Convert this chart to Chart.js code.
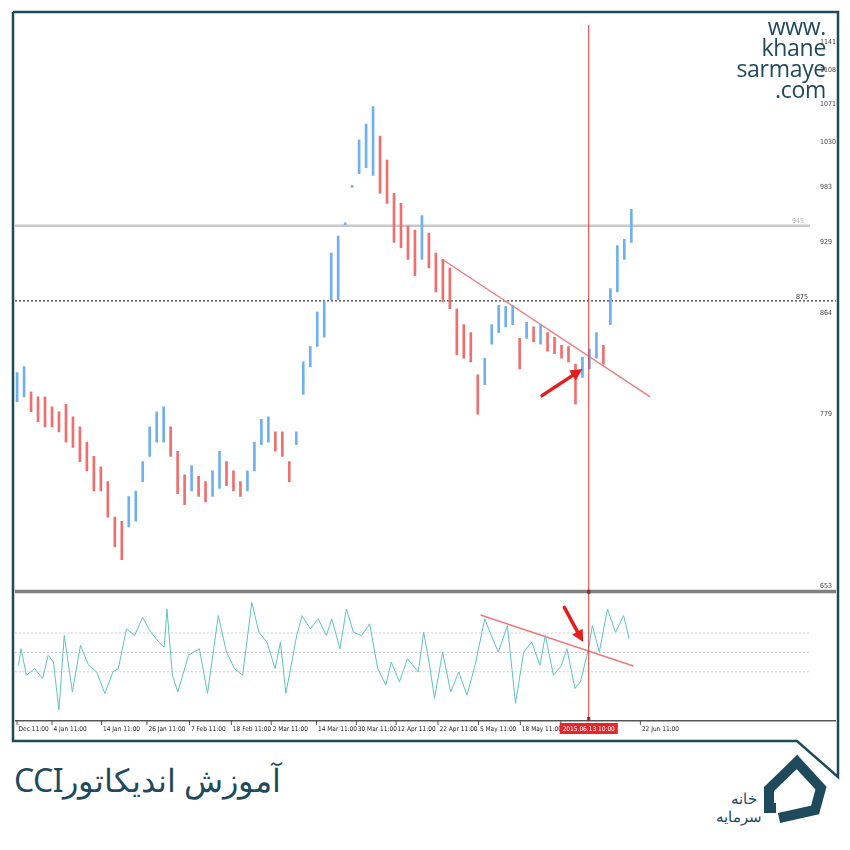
<!DOCTYPE html>
<html><head><meta charset="utf-8">
<script src="https://cdn.jsdelivr.net/npm/chart.js@4"></script>
<style>
body{margin:0;background:#fff;width:850px;height:850px;position:relative;overflow:hidden;font-family:"Open Sans",sans-serif}
#wrap{position:absolute;left:14px;top:13px;width:824px;height:727px}
#wm{position:absolute;right:24px;top:16px;text-align:right;color:#1f4a5c;font-family:"Open Sans";font-size:23px;line-height:21px;letter-spacing:-0.3px}
#title{position:absolute;left:14px;top:758px;color:#1f4a5c;font-family:"Noto Sans";font-size:32px;direction:rtl;letter-spacing:-0.5px}
.lg{position:absolute;color:#1f4a5c;font-family:"Noto Sans";font-size:15px;line-height:16px;direction:rtl;text-align:right;width:80px}
</style></head><body>
<svg width="850" height="850" style="position:absolute;left:0;top:0">
<polyline points="13,12 838,12 838,777 797,741 13,741 13,12" fill="none" stroke="#1f4a5c" stroke-width="2.5"/>
<polyline points="776,808 769,808 769,789 797,762 821,788 815,810 779,818" fill="none" stroke="#1f4a5c" stroke-width="10" stroke-linejoin="miter"/>
</svg>
<div class="lg" style="left:677px;top:790px">خانه</div>
<div class="lg" style="left:682px;top:808px">سرمایه</div>
<div id="wrap"><canvas id="c" width="824" height="727"></canvas></div>
<div id="wm">www.<br>khane<br>sarmaye<br>.com</div>
<div id="title">آموزش اندیکاتورCCI</div>
<script>
// candle ranges (price)
const lows  = [789,793,781,773,769,769,765,757,753,742,735,720,720,701,680,671,694,698,727,746,757,757,746,718,710,720,716,712,716,722,724,720,716,720,735,755,757,750,746,727,755,795,818,835,843,876,876,946,983,997,1003,995,977,967,929,924,913,898,913,905,883,874,868,828,825,822,779,803,837,847,852,854,816,842,839,837,831,829,825,822,787,809,816,825,820,854,883,913,929];
const highs = [813,818,797,793,793,785,781,787,777,769,757,746,738,727,701,698,716,720,742,769,781,785,769,750,732,739,731,727,735,750,742,735,727,735,757,775,777,765,765,742,765,822,835,865,874,919,935,948,985,1032,1049,1068,1036,1011,977,967,945,941,955,938,919,913,905,868,854,847,811,825,854,871,870,871,842,856,852,854,847,843,836,835,820,826,833,847,836,886,926,932,961];
const cciX = [0.2,0.57,1.34,2.5,3.66,4.44,5.21,5.99,6.76,7.92,9.08,10.25,11.41,12.57,13.73,14.5,15.67,16.83,17.99,19.15,20.31,21.09,21.47,22.25,23.02,24.57,26.12,27.28,28.83,29.99,31.15,32.31,33.63,34.64,35.8,36.96,37.73,38.51,40.06,40.83,41.99,43.15,44.31,45.09,46.25,47.18,48.19,49.35,50.51,51.67,52.83,53.61,54.77,55.93,57.48,58.25,59.03,59.8,60.96,62.12,63.28,64.45,65.61,67.0,67.93,68.94,70.25,71.41,72.58,73.74,74.9,75.68,76.84,78.0,78.77,79.93,80.71,81.87,82.41,83.42,84.58,85.74,86.9,87.68];
const cciV = [-67,19,-118,-84,-135,-15,-50,-298,87,-204,36,-67,-101,-212,-101,-84,121,87,181,104,53,27,224,-118,-204,-15,19,-212,190,2,-84,-118,258,104,53,-84,53,-212,87,190,121,173,87,173,19,224,104,87,147,-84,-169,-50,-152,-33,-101,104,-50,-238,2,-204,-101,-221,-67,173,87,2,138,-263,2,53,-67,87,-118,-67,19,-186,-152,19,138,2,224,104,190,70];
const yTicks = [1141,1108,1071,1030,983,929,864,779,653];
const levelGrey = 945, levelDot = 875;
const cciLevels = [100,0,-100];
const xTickPos = [0,5,12.1,18.6,24.7,30.7,36.4,42.9,48.6,54.3,60.3,66.1,72.1,77.9,89.3];
const xTickLabels = ["Dec 11:00","4 Jan 11:00","14 Jan 11:00","26 Jan 11:00","7 Feb 11:00","18 Feb 11:00","2 Mar 11:00","14 Mar 11:00","30 Mar 11:00","12 Apr 11:00","22 Apr 11:00","5 May 11:00","18 May 11:00","30 May 11:00","22 Jun 11:00"];
const eventX = 81.9, eventLabel = "2015.06.13 10:00";
const trendPrice = [{x:60.95,y:913},{x:90.7,y:793}];
const trendCci = [{x:66.4,y:193},{x:88.3,y:-70}];
const arrowPrice = [{x:75.2,y:794},{x:81.0,y:816}];
const arrowCci = [{x:78.4,y:232},{x:81.1,y:53}];

const candles = lows.map((l,i)=>({x:i,y:[l,highs[i]]}));
const cColors = lows.map((l,i)=>{const m=(l+highs[i])/2, p=i?(lows[i-1]+highs[i-1])/2:m; return m>=p?'#6fb0f0':'#ef6f6f';});

function arrow(ctx,x1,y1,x2,y2){
  ctx.save();ctx.strokeStyle='#e51d1d';ctx.fillStyle='#e51d1d';ctx.lineWidth=3.5;ctx.lineCap='round';
  const a=Math.atan2(y2-y1,x2-x1);
  ctx.beginPath();ctx.moveTo(x1,y1);ctx.lineTo(x2-8*Math.cos(a),y2-8*Math.sin(a));ctx.stroke();
  ctx.beginPath();ctx.moveTo(x2,y2);
  ctx.lineTo(x2-12*Math.cos(a)+6*Math.sin(a),y2-12*Math.sin(a)-6*Math.cos(a));
  ctx.lineTo(x2-12*Math.cos(a)-6*Math.sin(a),y2-12*Math.sin(a)+6*Math.cos(a));
  ctx.closePath();ctx.fill();ctx.restore();
}

const deco = {
  id:'deco',
  beforeDatasetsDraw(ch){
    const {ctx,scales:{x,y,y2},chartArea:ca}=ch;
    ctx.save();
    let py=y.getPixelForValue(levelGrey);
    ctx.strokeStyle='#c8c8c8';ctx.lineWidth=2.5;ctx.beginPath();ctx.moveTo(ca.left,py);ctx.lineTo(ca.right,py);ctx.stroke();
    ctx.fillStyle='#b0b0b0';ctx.font='7px "DejaVu Sans Condensed"';ctx.textAlign='right';ctx.fillText(String(levelGrey),ca.right-6,py-3);
    py=y.getPixelForValue(levelDot);
    ctx.strokeStyle='#444';ctx.lineWidth=1.3;ctx.setLineDash([2,2]);ctx.beginPath();ctx.moveTo(ca.left,py);ctx.lineTo(ca.right+26,py);ctx.stroke();
    ctx.fillStyle='#333';ctx.fillText(String(levelDot),ca.right-2,py-2);
    ctx.strokeStyle='#cfcfcf';ctx.lineWidth=1;
    cciLevels.forEach(v=>{const q=y2.getPixelForValue(v);ctx.beginPath();ctx.moveTo(ca.left,q);ctx.lineTo(ca.right,q);ctx.stroke();});
    ctx.setLineDash([]);
    ctx.restore();
  },
  afterDatasetsDraw(ch){
    const {ctx,scales:{x,y,y2},chartArea:ca}=ch;
    ctx.save();
    ctx.fillStyle='#808080';ctx.fillRect(ca.left,y.bottom-1,ca.right-ca.left+26,3.5);
    ctx.fillStyle='#555';ctx.fillRect(ca.left,ca.bottom,ca.right-ca.left+26,1.5);
    const ex=x.getPixelForValue(eventX);
    ctx.strokeStyle='#e03535';ctx.lineWidth=1;ctx.beginPath();ctx.moveTo(ex,12);ctx.lineTo(ex,ca.bottom);ctx.stroke();
    ctx.fillStyle='#a02020';ctx.fillRect(ex-1.5,y.bottom-1,3,4);ctx.fillRect(ex-1.5,ca.bottom-3,3,4);
    ctx.font='6.5px "DejaVu Sans Condensed"';ctx.textAlign='left';ctx.textBaseline='middle';ctx.fillStyle='#222';
    ctx.strokeStyle='#555';ctx.lineWidth=1;
    xTickPos.forEach((p,i)=>{const px=x.getPixelForValue(p);ctx.beginPath();ctx.moveTo(px,ca.bottom);ctx.lineTo(px,ca.bottom+5);ctx.stroke();ctx.fillText(xTickLabels[i],px+1.5,ca.bottom+9);});
    const w=ctx.measureText(eventLabel).width+6;
    ctx.fillStyle='#e8262a';ctx.fillRect(ex-w/2,ca.bottom+3,w,11);
    ctx.fillStyle='#fff';ctx.textAlign='center';ctx.fillText(eventLabel,ex,ca.bottom+9);
    arrow(ctx,x.getPixelForValue(arrowPrice[0].x),y.getPixelForValue(arrowPrice[0].y),x.getPixelForValue(arrowPrice[1].x),y.getPixelForValue(arrowPrice[1].y));
    arrow(ctx,x.getPixelForValue(arrowCci[0].x),y2.getPixelForValue(arrowCci[0].y),x.getPixelForValue(arrowCci[1].x),y2.getPixelForValue(arrowCci[1].y));
    ctx.restore();
  }
};

new Chart(document.getElementById('c'),{
  data:{datasets:[
    {type:'bar',data:candles,yAxisID:'y',backgroundColor:cColors,barThickness:2,grouped:false},
    {type:'line',data:trendPrice,yAxisID:'y',borderColor:'#f07a7a',borderWidth:1.3,pointRadius:0},
    {type:'line',data:cciX.map((v,i)=>({x:v,y:cciV[i]})),yAxisID:'y2',borderColor:'#5ec4bb',borderWidth:1,pointRadius:0,tension:0},
    {type:'line',data:trendCci,yAxisID:'y2',borderColor:'#f07a7a',borderWidth:1.5,pointRadius:0}
  ]},
  options:{
    responsive:false,animation:false,devicePixelRatio:1,
    layout:{padding:{top:2,left:1,right:2,bottom:0}},
    plugins:{legend:{display:false},tooltip:{enabled:false}},
    scales:{
      x:{type:'linear',offset:false,min:-0.3,max:113.6,grid:{display:false,offset:false},border:{display:false},ticks:{display:false},afterFit(s){s.height=20;}},
      y:{type:'logarithmic',position:'right',stack:'p',stackWeight:575,min:650,max:1168,
        grid:{display:false},border:{display:false},
        afterBuildTicks(s){s.ticks=yTicks.map(v=>({value:v}));},
        ticks:{color:'#444',font:{size:7,family:'DejaVu Sans Condensed'},padding:2,callback:v=>String(v)},
        afterFit(s){s.width=26;}},
      y2:{type:'linear',position:'right',stack:'p',stackWeight:130,min:-349,max:318,
        grid:{display:false},border:{display:false},ticks:{display:false},afterFit(s){s.width=26;}}
    }
  },
  plugins:[deco]
});
</script>
</body></html>
